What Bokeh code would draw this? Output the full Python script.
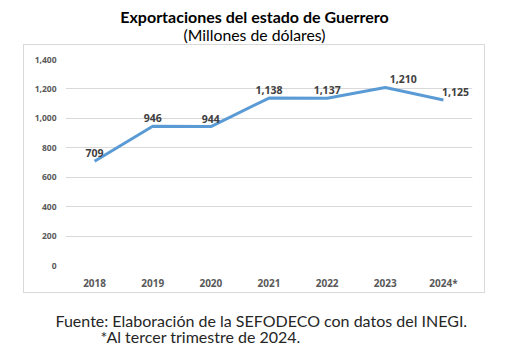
from bokeh.plotting import figure
from bokeh.layouts import column
from bokeh.models import (ColumnDataSource, Label, NumeralTickFormatter,
                          Range1d, FactorRange, LabelSet, FixedTicker)
from bokeh.core.properties import value
from bokeh.embed import file_html
from bokeh.resources import INLINE

years = ["2018", "2019", "2020", "2021", "2022", "2023", "2024*"]
values = [709, 946, 944, 1138, 1137, 1210, 1125]
value_labels = ["709", "946", "944", "1,138", "1,137", "1,210", "1,125"]
y_ticks = [0, 200, 400, 600, 800, 1000, 1200, 1400]

title_text = "Exportaciones del estado de Guerrero"
subtitle_text = "(Millones de dólares)"
source_text = "Fuente: Elaboración de la SEFODECO con datos del INEGI."
note_text = "*Al tercer trimestre de 2024."

label_dx = [0, 0, 0, 0, 0, 18, 12]

TOTAL_W = 506
BL, BR = 41, 14   # shared left/right borders of every panel


def text_panel(h, y0):
    f = figure(width=TOTAL_W, height=h, title=None,
               x_range=Range1d(BL, TOTAL_W - BR), y_range=Range1d(y0 + h, y0),
               output_backend="svg", toolbar_location=None,
               x_axis_location=None, y_axis_location=None,
               min_border_left=BL, min_border_right=BR,
               min_border_top=0, min_border_bottom=0)
    f.grid.visible = False
    f.outline_line_color = None
    f.background_fill_color = "white"
    f.border_fill_color = "white"
    return f


# ---- title panel ----
top = text_panel(44, 0)
top.add_layout(Label(x=254, y=15.5, text=title_text, text_align="center", text_baseline="middle",
                     text_font="Lato", text_font_style="bold", text_font_size="16px", text_color="black"))
top.add_layout(Label(x=254, y=33.5, text=subtitle_text, text_align="center", text_baseline="middle",
                     text_font="Lato", text_font_size="15.8px", text_color="black"))

# ---- main chart ----
src = ColumnDataSource(dict(x=years, y=values, lab=value_labels, dx=label_dx))

p = figure(width=462, height=249, title=None, x_range=FactorRange(*years), y_range=Range1d(0, 1400),
           output_backend="svg", toolbar_location=None,
           min_border_left=BL, min_border_right=BR, min_border_top=14, min_border_bottom=29)
p.margin = (0, 0, 0, 23)
p.styles = {"border": "1px solid #d9d9d9"}
p.outline_line_color = None
p.background_fill_color = "white"
p.border_fill_color = "white"

p.line("x", "y", source=src, line_color="#5b9bd5", line_width=3)

labels = LabelSet(x="x", y="y", text="lab", source=src, x_offset="dx", y_offset=8,
                  text_align="center", text_baseline="middle",
                  text_font=value("Noto Sans"), text_font_style="bold", text_font_size="10.5px",
                  text_color="#404040")
p.add_layout(labels)

p.yaxis.ticker = FixedTicker(ticks=y_ticks)
p.yaxis.formatter = NumeralTickFormatter(format="0,0")
p.axis.axis_line_color = None
p.axis.major_tick_line_color = None
p.axis.minor_tick_line_color = None
p.axis.major_tick_out = 0
p.axis.major_tick_in = 0
p.axis.minor_tick_out = 0
p.axis.minor_tick_in = 0
p.yaxis.major_label_text_font = "Noto Sans"
p.yaxis.major_label_text_font_style = "bold"
p.yaxis.major_label_text_font_size = "8.5px"
p.yaxis.major_label_text_color = "#595959"
p.yaxis.major_label_standoff = 9

p.xaxis.major_label_text_font = "Noto Sans"
p.xaxis.major_label_text_font_style = "bold"
p.xaxis.major_label_text_font_size = "10px"
p.xaxis.major_label_text_color = "#595959"
p.xaxis.major_label_standoff = 10

p.xgrid.grid_line_color = None
p.ygrid.grid_line_color = "#d9d9d9"
p.ygrid.grid_line_width = 1

# ---- footnote panel ----
bot = text_panel(58, 295)
bot.add_layout(Label(x=55, y=322, text=source_text, text_align="left", text_baseline="middle",
                     text_font="Lato", text_font_size="16px", text_color="#262626"))
bot.add_layout(Label(x=100, y=338, text=note_text, text_align="left", text_baseline="middle",
                     text_font="Lato", text_font_size="16px", text_color="#262626"))

layout = column(top, p, bot, spacing=0)
open("out.html", "w").write(file_html(layout, INLINE))
